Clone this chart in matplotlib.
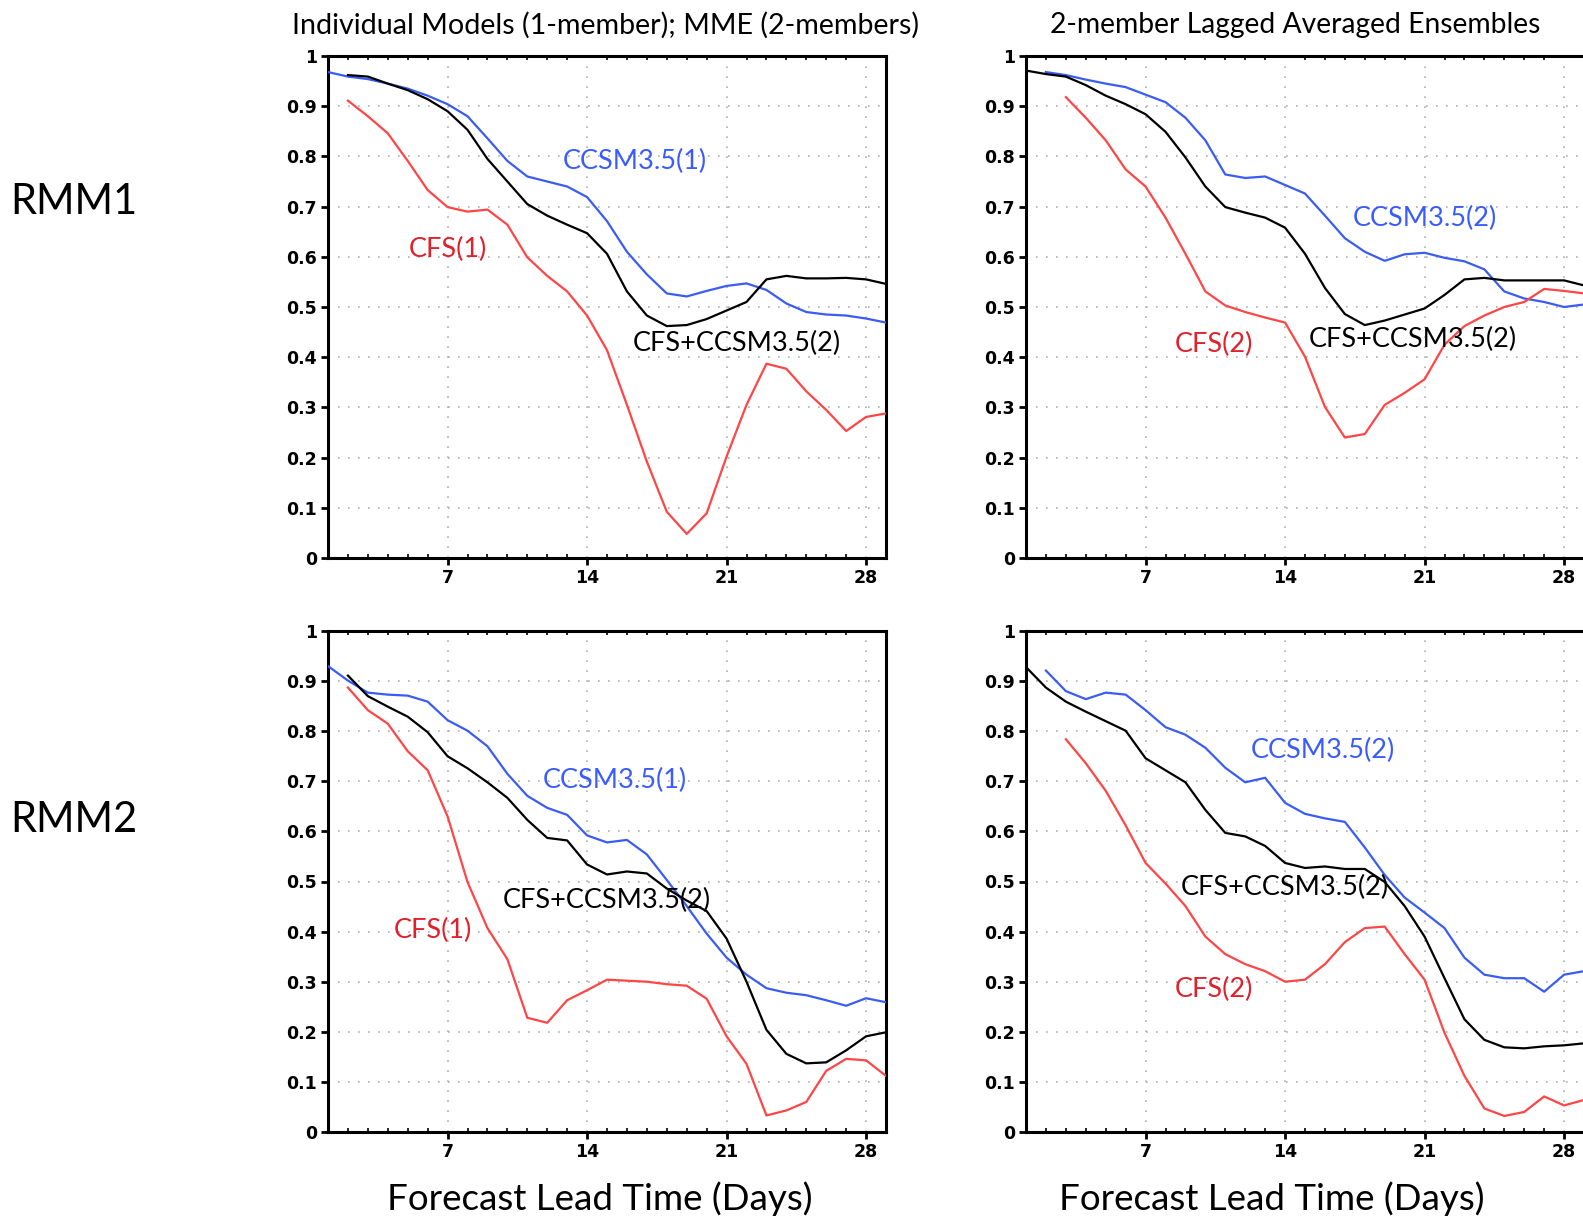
"""RMM1/RMM2 correlation skill vs forecast lead time: single models, MME and lagged ensembles"""
import numpy as np
import matplotlib
matplotlib.use("Agg")
import matplotlib.pyplot as plt
from matplotlib.ticker import MultipleLocator, FixedLocator

W, H = 1583, 1218
TXT_FONT = ["Lato", "DejaVu Sans"]

BLUE = "#3a5cf5"
RED = "#ff4545"
BLACK = "#000000"
LBL_BLUE = "#3a5cff"
LBL_RED = "#e0202a"

# forecast lead days
days = np.arange(1, 30)

# ---- RMM1, individual models (1 member) and MME ----
rmm1_ccsm1 = [0.968, 0.959, 0.954, 0.945, 0.935, 0.921, 0.904, 0.880, 0.836, 0.791,
              0.760, 0.750, 0.740, 0.719, 0.671, 0.610, 0.565, 0.527, 0.521, 0.532,
              0.542, 0.547, 0.534, 0.507, 0.490, 0.485, 0.483, 0.477, 0.469]
rmm1_cfs1 = [np.nan, 0.911, 0.880, 0.846, 0.791, 0.733, 0.699, 0.690, 0.694, 0.664,
             0.599, 0.562, 0.531, 0.483, 0.414, 0.305, 0.192, 0.092, 0.048, 0.089,
             0.202, 0.305, 0.387, 0.377, 0.332, 0.295, 0.253, 0.281, 0.288]
rmm1_mme = [np.nan, 0.962, 0.959, 0.945, 0.932, 0.914, 0.890, 0.853, 0.795, 0.750,
            0.705, 0.682, 0.664, 0.647, 0.606, 0.531, 0.483, 0.462, 0.464, 0.476,
            0.493, 0.510, 0.555, 0.562, 0.557, 0.557, 0.558, 0.555, 0.546]

# ---- RMM1, 2-member lagged averaged ensembles ----
rmm1_ccsm2 = [np.nan, 0.968, 0.962, 0.953, 0.945, 0.938, 0.923, 0.908, 0.877, 0.832,
              0.764, 0.757, 0.760, 0.743, 0.726, 0.682, 0.637, 0.610, 0.592, 0.605,
              0.608, 0.598, 0.591, 0.575, 0.531, 0.517, 0.510, 0.500, 0.505]
rmm1_cfs2 = [np.nan, np.nan, 0.918, 0.877, 0.832, 0.774, 0.740, 0.678, 0.606, 0.531,
             0.503, 0.490, 0.479, 0.469, 0.401, 0.301, 0.240, 0.247, 0.305, 0.329,
             0.356, 0.425, 0.462, 0.483, 0.500, 0.510, 0.536, 0.532, 0.527]
rmm1_mme2 = [0.971, 0.964, 0.959, 0.942, 0.921, 0.904, 0.884, 0.849, 0.798, 0.740,
             0.699, 0.688, 0.678, 0.658, 0.606, 0.538, 0.486, 0.464, 0.473, 0.485,
             0.497, 0.524, 0.555, 0.558, 0.553, 0.553, 0.553, 0.553, 0.543]

# ---- RMM2, individual models (1 member) and MME ----
rmm2_ccsm1 = [0.930, 0.901, 0.877, 0.873, 0.871, 0.859, 0.822, 0.801, 0.770, 0.715,
              0.671, 0.647, 0.633, 0.592, 0.578, 0.583, 0.554, 0.503, 0.451, 0.396,
              0.348, 0.314, 0.287, 0.278, 0.273, 0.263, 0.252, 0.267, 0.259]
rmm2_cfs1 = [np.nan, 0.887, 0.842, 0.815, 0.760, 0.722, 0.630, 0.499, 0.407, 0.345,
             0.228, 0.218, 0.263, 0.283, 0.304, 0.302, 0.300, 0.295, 0.292, 0.266,
             0.191, 0.136, 0.033, 0.043, 0.060, 0.122, 0.146, 0.143, 0.112]
rmm2_mme = [np.nan, 0.911, 0.870, 0.849, 0.829, 0.798, 0.750, 0.726, 0.698, 0.667,
            0.623, 0.587, 0.582, 0.534, 0.514, 0.520, 0.516, 0.486, 0.462, 0.441,
            0.386, 0.300, 0.204, 0.156, 0.137, 0.139, 0.163, 0.191, 0.199]

# ---- RMM2, 2-member lagged averaged ensembles ----
rmm2_ccsm2 = [np.nan, 0.921, 0.880, 0.864, 0.877, 0.873, 0.842, 0.808, 0.793, 0.767,
              0.727, 0.698, 0.707, 0.657, 0.635, 0.626, 0.619, 0.568, 0.513, 0.468,
              0.438, 0.407, 0.348, 0.314, 0.307, 0.307, 0.280, 0.314, 0.321]
rmm2_cfs2 = [np.nan, np.nan, 0.784, 0.736, 0.681, 0.612, 0.537, 0.496, 0.451, 0.390,
             0.355, 0.335, 0.321, 0.300, 0.304, 0.335, 0.379, 0.407, 0.410, 0.355,
             0.304, 0.198, 0.112, 0.047, 0.032, 0.040, 0.071, 0.053, 0.064]
rmm2_mme2 = [0.928, 0.887, 0.859, 0.839, 0.820, 0.801, 0.746, 0.722, 0.698, 0.643,
             0.597, 0.590, 0.571, 0.537, 0.527, 0.530, 0.525, 0.525, 0.499, 0.451,
             0.390, 0.307, 0.225, 0.184, 0.169, 0.167, 0.171, 0.173, 0.177]

col_titles = ["Individual Models (1-member); MME (2-members)",
              "2-member Lagged Averaged Ensembles"]
row_titles = ["RMM1", "RMM2"]
xlabel = "Forecast Lead Time (Days)"
xticks = [7, 14, 21, 28]
yticks = [0, 0.1, 0.2, 0.3, 0.4, 0.5, 0.6, 0.7, 0.8, 0.9, 1]
ytick_labels = ["0", "0.1", "0.2", "0.3", "0.4", "0.5", "0.6", "0.7", "0.8", "0.9", "1"]

# (series, label, label_x, label_y) per panel, order blue/red/black
panels = [
    [(rmm1_ccsm1, "CCSM3.5(1)", 12.8, 0.789), (rmm1_cfs1, "CFS(1)", 5.05, 0.614),
     (rmm1_mme, "CFS+CCSM3.5(2)", 16.3, 0.428)],
    [(rmm1_ccsm2, "CCSM3.5(2)", 17.4, 0.677), (rmm1_cfs2, "CFS(2)", 8.45, 0.426),
     (rmm1_mme2, "CFS+CCSM3.5(2)", 15.2, 0.436)],
    [(rmm2_ccsm1, "CCSM3.5(1)", 11.8, 0.702), (rmm2_cfs1, "CFS(1)", 4.3, 0.403),
     (rmm2_mme, "CFS+CCSM3.5(2)", 9.75, 0.462)],
    [(rmm2_ccsm2, "CCSM3.5(2)", 12.3, 0.762), (rmm2_cfs2, "CFS(2)", 8.45, 0.284),
     (rmm2_mme2, "CFS+CCSM3.5(2)", 8.75, 0.488)],
]
line_cols = [BLUE, RED, BLACK]
label_cols = [LBL_BLUE, LBL_RED, BLACK]


def px_box(x0, y0, x1, y1):
    # pixel box (top-left origin) -> figure fraction rect
    return [x0 / W, 1 - y1 / H, (x1 - x0) / W, (y1 - y0) / H]


fig = plt.figure(figsize=(W / 100, H / 100), dpi=100)
boxes = [px_box(328, 56, 886, 558), px_box(1026, 56, 1584, 558),
         px_box(328, 631, 886, 1132), px_box(1026, 631, 1584, 1132)]

for box, series in zip(boxes, panels):
    ax = fig.add_axes(box)
    ax.set_xlim(1, 29)
    ax.set_ylim(0, 1)
    for (vals, lbl, lx, ly), lc, tc in zip(series, line_cols, label_cols):
        ax.plot(days, vals, color=lc, lw=1.6, zorder=3)
        ax.text(lx, ly, lbl, color=tc, fontsize=19.5, family=TXT_FONT,
                ha="left", va="center", zorder=4)
    ax.xaxis.set_major_locator(FixedLocator(xticks))
    ax.xaxis.set_minor_locator(MultipleLocator(1))
    ax.set_yticks(yticks)
    ax.set_yticklabels(ytick_labels)
    ax.grid(True, which="major", color="#b0b0b0", ls=(0, (1, 5)), lw=1.2)
    for s in ax.spines.values():
        s.set_linewidth(2.2)
    ax.tick_params(axis="both", which="major", direction="out", length=5, width=2,
                   labelsize=12.5, pad=3)
    ax.tick_params(axis="x", which="minor", direction="in", length=3, width=1.2,
                   top=True)
    for t in ax.get_xticklabels() + ax.get_yticklabels():
        t.set_fontweight("bold")

fig.text(605 / W, 1 - 25 / H, col_titles[0], ha="center", va="center",
         fontsize=20.6, family=TXT_FONT)
fig.text(1295 / W, 1 - 25 / H, col_titles[1], ha="center", va="center",
         fontsize=20.3, family=TXT_FONT)
fig.text(10 / W, 1 - 202 / H, row_titles[0], ha="left", va="center",
         fontsize=30, family=TXT_FONT)
fig.text(10 / W, 1 - 820 / H, row_titles[1], ha="left", va="center",
         fontsize=30, family=TXT_FONT)
fig.text(600 / W, 1 - 1199 / H, xlabel, ha="center", va="center",
         fontsize=26.5, family=TXT_FONT)
fig.text(1272 / W, 1 - 1199 / H, xlabel, ha="center", va="center",
         fontsize=26.5, family=TXT_FONT)

fig.savefig("out.png", dpi=100)
plt.close(fig)
